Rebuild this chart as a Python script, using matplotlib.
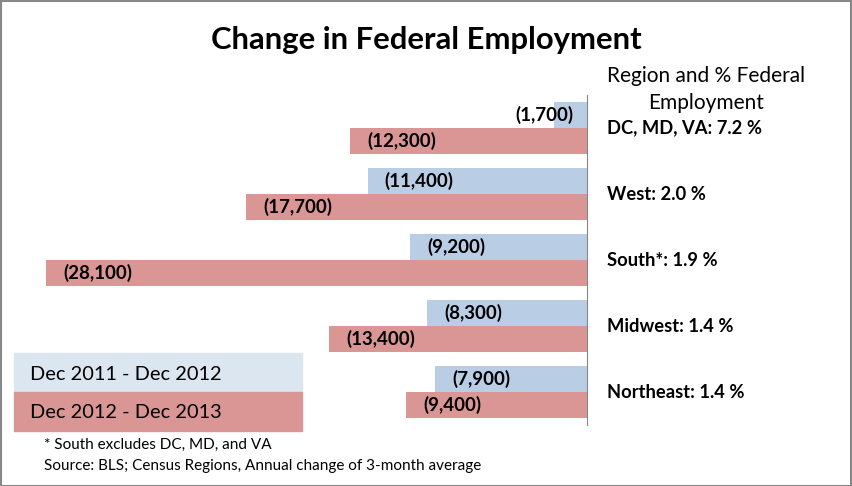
import matplotlib.pyplot as plt
from matplotlib.patches import Rectangle

plt.rcParams['font.family'] = ['Lato', 'DejaVu Sans']

regions = ['DC, MD, VA: 7.2 %', 'West: 2.0 %', 'South*: 1.9 %', 'Midwest: 1.4 %', 'Northeast: 1.4 %']
chg_2012 = [-1700, -11400, -9200, -8300, -7900]
chg_2013 = [-12300, -17700, -28100, -13400, -9400]
series = ['Dec 2011 - Dec 2012', 'Dec 2012 - Dec 2013']

blue = '#B9CDE5'
blue_light = '#DCE6F1'
red = '#D99694'

W, H = 852, 486
fig = plt.figure(figsize=(W / 100, H / 100), dpi=100)

# axes placed in pixels: value 0 at x=587, rows between y=95 and y=425
ax = fig.add_axes([20 / W, (H - 425) / H, 567 / W, 330 / H])
scale = 541 / 28100  # px per unit
ax.set_xlim(-567 / scale, 0)
ax.set_ylim(4.5, -0.5)

ypos = list(range(len(regions)))
ax.barh([y - 0.2 for y in ypos], chg_2012, height=0.4, color=blue)
ax.barh([y + 0.2 for y in ypos], chg_2013, height=0.4, color=red)

def label(v, y):
    txt = '({:,})'.format(abs(v))
    if abs(v) < 4000:
        ax.annotate(txt, (0, y), xytext=(-14, 0), textcoords='offset pixels',
                    ha='right', va='center', fontsize=13.5, fontweight='bold')
    else:
        ax.annotate(txt, (v, y), xytext=(17, 0), textcoords='offset pixels',
                    ha='left', va='center', fontsize=13.5, fontweight='bold')

for y, a, b in zip(ypos, chg_2012, chg_2013):
    label(a, y - 0.2)
    label(b, y + 0.2)
    ax.annotate(regions[y], (0, y), xytext=(20, 0), textcoords='offset pixels',
                ha='left', va='center', fontsize=13.2, fontweight='bold')

for s in ['top', 'left', 'bottom']:
    ax.spines[s].set_visible(False)
ax.spines['right'].set_color('#868686')
ax.set_xticks([])
ax.set_yticks([])
ax.patch.set_alpha(0)

def ftext(x, y, s, **kw):
    fig.text(x / W, 1 - y / H, s, **kw)

ftext(426, 40, 'Change in Federal Employment', ha='center', va='center',
      fontsize=22.3, fontweight='bold')
ftext(706, 76, 'Region and % Federal', ha='center', va='center', fontsize=15)
ftext(706, 103, 'Employment', ha='center', va='center', fontsize=15)

# legend boxes
fig.patches.append(Rectangle((14 / W, 1 - 392 / H), 288 / W, 39 / H,
                             transform=fig.transFigure, color=blue_light, zorder=0))
fig.patches.append(Rectangle((14 / W, 1 - 431 / H), 288 / W, 39 / H,
                             transform=fig.transFigure, color=red, zorder=0))
ftext(30, 374, series[0], ha='left', va='center', fontsize=14.4)
ftext(30, 413, series[1], ha='left', va='center', fontsize=14.4)

ftext(44, 445, '* South excludes DC, MD, and VA', ha='left', va='center', fontsize=11)
ftext(44, 466, 'Source: BLS; Census Regions, Annual change of 3-month average',
      ha='left', va='center', fontsize=11)

fig.patches.append(Rectangle((0.5 / W, 0.5 / H), (W - 2) / W, (H - 2) / H,
                             transform=fig.transFigure, fill=False,
                             edgecolor='#888888', linewidth=1.5))

fig.savefig('out.png', dpi=100)
